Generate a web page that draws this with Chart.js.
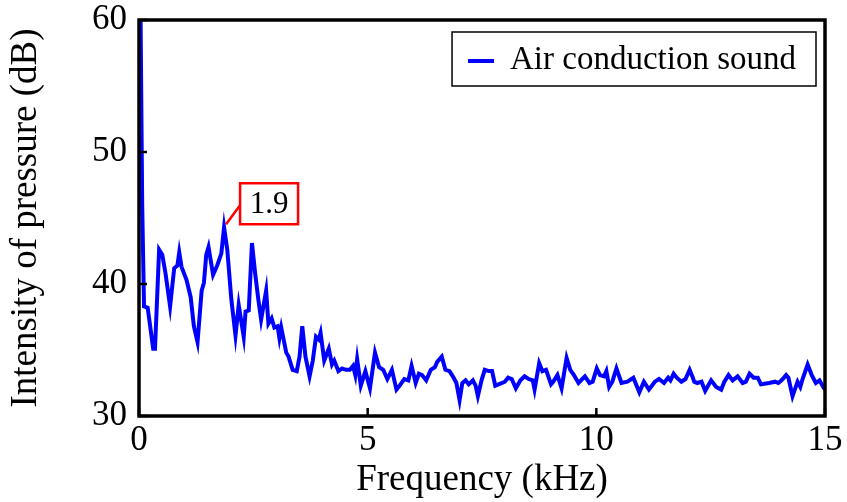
<!DOCTYPE html>
<html>
<head>
<meta charset="utf-8">
<script src="https://cdn.jsdelivr.net/npm/chart.js@4"></script>
<style>
  body { margin: 0; background: #fff; }
  #wrap { width: 847px; height: 502px; }
</style>
</head>
<body>
<div id="wrap"><canvas id="myChart" width="847" height="502"></canvas></div>
<script>
// Dữ liệu
const freqKHz = [0.03, 0.07, 0.11, 0.19, 0.31, 0.35, 0.44, 0.51, 0.58, 0.68, 0.77, 0.84, 0.88, 0.93, 1.04, 1.13, 1.20, 1.28, 1.37, 1.42,
  1.47, 1.52, 1.62, 1.71, 1.80, 1.86, 1.93, 2.02, 2.11, 2.18, 2.29, 2.33, 2.40, 2.47, 2.54, 2.61, 2.67, 2.78, 2.83, 2.90,
  2.96, 3.03, 3.07, 3.11, 3.22, 3.27, 3.36, 3.45, 3.51, 3.57, 3.64, 3.73, 3.80, 3.87, 3.93, 3.97, 4.05, 4.15, 4.22, 4.27,
  4.36, 4.44, 4.53, 4.61, 4.68, 4.73, 4.77, 4.85, 4.95, 5.05, 5.16, 5.25, 5.34, 5.43, 5.53, 5.63, 5.70, 5.80, 5.89, 5.96,
  6.05, 6.12, 6.19, 6.28, 6.38, 6.47, 6.52, 6.62, 6.70, 6.79, 6.88, 6.94, 7.01, 7.07, 7.14, 7.21, 7.30, 7.36, 7.41, 7.49,
  7.56, 7.65, 7.72, 7.79, 7.86, 7.94, 8.00, 8.07, 8.15, 8.24, 8.34, 8.43, 8.52, 8.61, 8.65, 8.75, 8.82, 8.90, 9.01, 9.06,
  9.15, 9.24, 9.35, 9.43, 9.51, 9.61, 9.75, 9.85, 9.92, 10.01, 10.08, 10.17, 10.22, 10.28, 10.35, 10.44, 10.55, 10.68, 10.81, 10.94,
  11.04, 11.15, 11.28, 11.37, 11.48, 11.57, 11.62, 11.69, 11.76, 11.86, 11.95, 12.04, 12.10, 12.14, 12.21, 12.30, 12.38, 12.51, 12.62, 12.73,
  12.80, 12.89, 12.98, 13.09, 13.20, 13.27, 13.35, 13.44, 13.53, 13.60, 13.78, 13.91, 13.98, 14.05, 14.15, 14.20, 14.29, 14.40, 14.46, 14.51,
  14.62, 14.71, 14.80, 14.88, 14.96, 15.0];
const pressureDb = [62, 46, 38.3, 38.2, 35.1, 35.1, 42.6, 42.2, 40.8, 38.3, 41.2, 41.4, 42.4, 41.3, 40.3, 39.0, 36.8, 35.6, 39.5, 40.1,
  42.2, 42.8, 40.7, 41.4, 42.3, 44.3, 42.6, 38.8, 36.1, 38.4, 36.0, 37.9, 38.0, 43.1, 40.8, 38.8, 37.3, 39.5, 37.0, 37.4,
  36.7, 36.8, 35.9, 36.7, 34.8, 34.5, 33.5, 33.4, 34.5, 36.8, 34.5, 33.0, 34.2, 36.0, 35.8, 36.3, 34.2, 35.1, 33.9, 34.2,
  33.4, 33.6, 33.5, 33.5, 33.8, 33.1, 34.3, 32.3, 33.4, 32.1, 34.8, 33.7, 33.5, 32.8, 33.5, 32.0, 32.3, 32.8, 32.7, 33.8,
  32.5, 33.2, 33.1, 32.7, 33.5, 33.7, 34.1, 34.5, 33.5, 33.4, 32.9, 32.5, 31.2, 32.5, 32.7, 32.4, 32.7, 32.3, 31.5, 32.7,
  33.5, 33.4, 33.4, 32.3, 32.4, 32.5, 32.6, 32.9, 32.8, 32.1, 32.7, 33.0, 32.8, 32.7, 32.0, 34.0, 33.4, 33.5, 32.4, 32.6,
  33.1, 32.1, 34.4, 33.5, 33.1, 32.5, 33.0, 32.5, 32.6, 33.6, 33.1, 33.0, 33.4, 32.2, 32.6, 33.6, 32.5, 32.6, 32.9, 31.8,
  32.6, 32.0, 32.6, 32.8, 32.5, 32.9, 32.7, 33.2, 32.9, 32.6, 32.8, 33.5, 33.0, 32.6, 32.5, 32.6, 31.9, 32.7, 32.2, 32.0,
  32.6, 33.1, 32.7, 33.0, 32.5, 32.6, 33.2, 32.9, 32.9, 32.4, 32.5, 32.6, 32.5, 32.7, 33.1, 32.9, 31.5, 32.6, 32.2, 32.8,
  33.9, 33.1, 32.5, 32.7, 32.2, 32.0];
const xTicks = [0, 5, 10, 15];
const yTicks = [30, 40, 50, 60];
const peakFreq = 1.86;
const peakLabel = '1.9';

const serif = '"Liberation Serif", "DejaVu Serif", serif';

// Khung, vạch chia hướng vào trong, chú thích và nhãn đỉnh
const framePlugin = {
    id: 'frame',
    afterDraw(chart) {
        const ctx = chart.ctx;
        const a = chart.chartArea;
        const xs = chart.scales.x, ys = chart.scales.y;
        ctx.save();
        ctx.strokeStyle = '#000';
        ctx.lineWidth = 3.5;
        ctx.strokeRect(a.left, a.top, a.right - a.left, a.bottom - a.top);
        ctx.lineWidth = 2.5;
        xTicks.forEach(function (v) {
            const px = xs.getPixelForValue(v);
            ctx.beginPath(); ctx.moveTo(px, a.bottom); ctx.lineTo(px, a.bottom - 8); ctx.stroke();
        });
        yTicks.forEach(function (v) {
            const py = ys.getPixelForValue(v);
            ctx.beginPath(); ctx.moveTo(a.left, py); ctx.lineTo(a.left + 8, py); ctx.stroke();
        });

        // chú thích
        const label = chart.data.datasets[0].label;
        ctx.font = '33px ' + serif;
        const tw = ctx.measureText(label).width;
        const bw = tw + 78, bh = 54;
        const bx = a.right - 9 - bw, by = a.top + 12;
        ctx.fillStyle = '#fff';
        ctx.fillRect(bx, by, bw, bh);
        ctx.lineWidth = 1.5;
        ctx.strokeRect(bx, by, bw, bh);
        ctx.strokeStyle = '#0000ff';
        ctx.lineWidth = 4;
        ctx.beginPath(); ctx.moveTo(bx + 16, by + bh / 2 + 2); ctx.lineTo(bx + 42, by + bh / 2 + 2); ctx.stroke();
        ctx.fillStyle = '#000';
        ctx.textBaseline = 'middle';
        ctx.fillText(label, bx + 58, by + bh / 2 + 1);

        // nhãn đỉnh
        const idx = freqKHz.indexOf(peakFreq);
        const pt = chart.getDatasetMeta(0).data[idx];
        const lx = pt.x + 16, ly = pt.y - 44;
        ctx.strokeStyle = '#ff0000';
        ctx.lineWidth = 2.5;
        ctx.beginPath(); ctx.moveTo(pt.x + 2, pt.y - 3); ctx.lineTo(lx, ly + 22); ctx.stroke();
        ctx.fillStyle = '#fff';
        ctx.fillRect(lx, ly, 58, 41);
        ctx.strokeRect(lx, ly, 58, 41);
        ctx.fillStyle = '#000';
        ctx.font = '31px ' + serif;
        ctx.textAlign = 'center';
        ctx.fillText(peakLabel, lx + 29, ly + 22);
        ctx.restore();
    }
};

new Chart(document.getElementById('myChart'), {
    type: 'line',
    data: {
        datasets: [{
            label: 'Air conduction sound',
            data: freqKHz.map(function (f, i) { return { x: f, y: pressureDb[i] }; }),
            borderColor: '#0000ff',
            borderWidth: 4,
            pointRadius: 0,
            tension: 0,
            fill: false
        }]
    },
    options: {
        responsive: false,
        animation: false,
        layout: { padding: { top: 20, right: 22, left: 0, bottom: 0 } },
        plugins: { legend: { display: false }, tooltip: { enabled: false } },
        scales: {
            x: {
                type: 'linear',
                min: 0,
                max: 15,
                afterBuildTicks: function (s) { s.ticks = xTicks.map(function (v) { return { value: v }; }); },
                afterFit: function (s) { s.height = 86; s.paddingLeft = 0; s.paddingRight = 0; },
                grid: { display: false, drawTicks: false },
                border: { display: false },
                ticks: { color: '#000', font: { family: serif, size: 35 }, padding: 4, maxRotation: 0 },
                title: { display: true, text: 'Frequency (kHz)', color: '#000', font: { family: serif, size: 37 }, padding: { top: 0, bottom: 0 } }
            },
            y: {
                min: 30,
                max: 60,
                afterBuildTicks: function (s) { s.ticks = yTicks.map(function (v) { return { value: v }; }); },
                afterFit: function (s) { s.width = 139; s.paddingTop = 0; s.paddingBottom = 0; },
                grid: { display: false, drawTicks: false },
                border: { display: false },
                ticks: { color: '#000', font: { family: serif, size: 35 }, padding: 12 },
                title: { display: true, text: 'Intensity of pressure (dB)', color: '#000', font: { family: serif, size: 37 }, padding: { top: 4, bottom: 0 } }
            }
        }
    },
    plugins: [framePlugin]
});
</script>
</body>
</html>
